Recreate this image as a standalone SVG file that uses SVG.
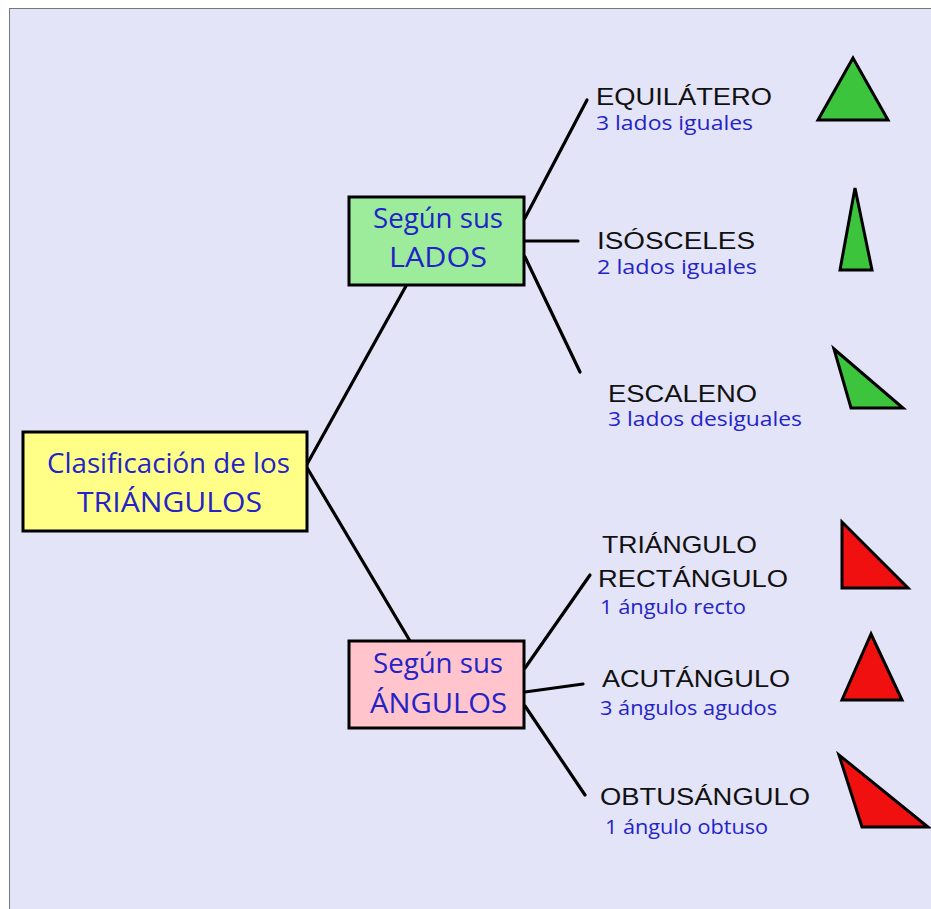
<svg xmlns="http://www.w3.org/2000/svg" width="931" height="909" viewBox="0 0 931 909">
<style>
.box{stroke:#000;stroke-width:3}
.bt{font-family:"Open Sans","Liberation Sans",sans-serif;font-size:27px;fill:#2323C8}
.lt{font-family:"Liberation Sans",Arial,sans-serif;font-size:24px;fill:#111}
.st{font-family:"Open Sans","Liberation Sans",sans-serif;font-size:20px;fill:#2323C8}
.ln{stroke:#000;stroke-width:3.2;fill:none;stroke-linecap:round}
.g{fill:#3DC43D;stroke:#000;stroke-width:3;stroke-linejoin:miter}
.r{fill:#F01010;stroke:#000;stroke-width:3;stroke-linejoin:miter}
</style>
<rect x="0" y="0" width="931" height="909" fill="#ffffff"/>
<rect x="9.5" y="8.5" width="922" height="901" fill="#E4E4F8" stroke="#777" stroke-width="1"/>
<g id="connectors">
<line class="ln" x1="306" y1="466" x2="406" y2="286"/>
<line class="ln" x1="306" y1="466" x2="410" y2="641"/>
<line class="ln" x1="525" y1="218" x2="587" y2="100"/>
<line class="ln" x1="525" y1="241" x2="578" y2="241"/>
<line class="ln" x1="525" y1="257" x2="580" y2="372"/>
<line class="ln" x1="525" y1="668" x2="590" y2="575"/>
<line class="ln" x1="525" y1="692" x2="583" y2="684"/>
<line class="ln" x1="525" y1="706" x2="585" y2="795"/>
</g>
<g id="root">
<rect class="box" x="23" y="432" width="284" height="99" fill="#FFFF88"/>
<text class="bt" x="47" y="473" textLength="243" lengthAdjust="spacingAndGlyphs">Clasificación de los</text>
<text class="bt" x="77" y="512" textLength="185" lengthAdjust="spacingAndGlyphs">TRIÁNGULOS</text>
</g>
<g id="lados">
<rect class="box" x="349" y="197" width="175" height="88" fill="#9CEC9C"/>
<text class="bt" x="373" y="228" textLength="130" lengthAdjust="spacingAndGlyphs">Según sus</text>
<text class="bt" x="389" y="267" textLength="98" lengthAdjust="spacingAndGlyphs">LADOS</text>
</g>
<g id="angulos">
<rect class="box" x="349" y="641" width="175" height="87" fill="#FFC4CC"/>
<text class="bt" x="373" y="673" textLength="130" lengthAdjust="spacingAndGlyphs">Según sus</text>
<text class="bt" x="370" y="713" textLength="137" lengthAdjust="spacingAndGlyphs">ÁNGULOS</text>
</g>
<g id="equilatero">
<text class="lt" x="596" y="105" textLength="176" lengthAdjust="spacingAndGlyphs">EQUILÁTERO</text>
<text class="st" x="596" y="130" textLength="157" lengthAdjust="spacingAndGlyphs">3 lados iguales</text>
<polygon class="g" points="853,58 818,120 888,120"/>
</g>
<g id="isosceles">
<text class="lt" x="597" y="249" textLength="158" lengthAdjust="spacingAndGlyphs">ISÓSCELES</text>
<text class="st" x="597" y="274" textLength="160" lengthAdjust="spacingAndGlyphs">2 lados iguales</text>
<polygon class="g" points="855,188 840,270 872,270"/>
</g>
<g id="escaleno">
<text class="lt" x="608" y="402" textLength="149" lengthAdjust="spacingAndGlyphs">ESCALENO</text>
<text class="st" x="608" y="426" textLength="194" lengthAdjust="spacingAndGlyphs">3 lados desiguales</text>
<polygon class="g" points="834,349 851,408 903,408"/>
</g>
<g id="rectangulo">
<text class="lt" x="602" y="553" textLength="155" lengthAdjust="spacingAndGlyphs">TRIÁNGULO</text>
<text class="lt" x="598" y="587" textLength="190" lengthAdjust="spacingAndGlyphs">RECTÁNGULO</text>
<text class="st" x="600" y="614" textLength="146" lengthAdjust="spacingAndGlyphs">1 ángulo recto</text>
<polygon class="r" points="842,522 842,588 908,588"/>
</g>
<g id="acutangulo">
<text class="lt" x="602" y="687" textLength="188" lengthAdjust="spacingAndGlyphs">ACUTÁNGULO</text>
<text class="st" x="600" y="715" textLength="177" lengthAdjust="spacingAndGlyphs">3 ángulos agudos</text>
<polygon class="r" points="871,634 842,700 902,700"/>
</g>
<g id="obtusangulo">
<text class="lt" x="600" y="805" textLength="210" lengthAdjust="spacingAndGlyphs">OBTUSÁNGULO</text>
<text class="st" x="605" y="834" textLength="163" lengthAdjust="spacingAndGlyphs">1 ángulo obtuso</text>
<polygon class="r" points="839,755 862,827 928,827"/>
</g>
</svg>
